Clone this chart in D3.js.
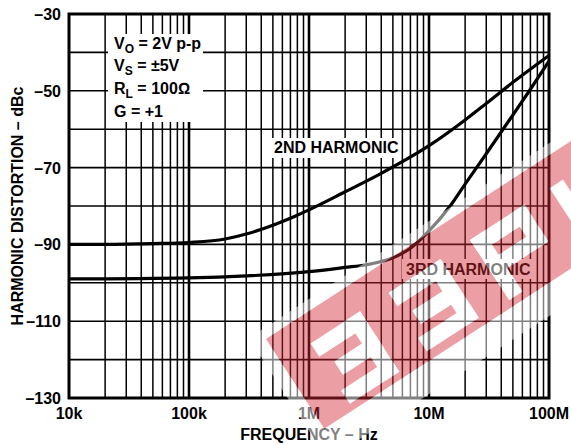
<!DOCTYPE html>
<html><head><meta charset="utf-8">
<script src="https://cdn.jsdelivr.net/npm/d3@7"></script>
<style>
html,body{margin:0;padding:0;background:#fff;}
svg{display:block;}
text{font-family:"Liberation Sans",Arial,sans-serif;font-weight:bold;fill:#000;}
</style></head>
<body>
<svg id="chart" width="571" height="444"></svg>
<script>
// ---- data ----
const xTickValues = [1e4, 1e5, 1e6, 1e7, 1e8];
const xTickLabels = ["10k", "100k", "1M", "10M", "100M"];
const yTickValues = [-30, -50, -70, -90, -110, -130];
const yTickLabels = ["\u201330", "\u201350", "\u201370", "\u201390", "\u2013110", "\u2013130"];
const freq2 = [1e4, 2e4, 5e4, 1e5, 2e5, 3e5, 5e5, 7e5, 1e6, 2e6, 4e6, 1e7, 2e7, 3e7, 5e7, 1e8];
const dist2 = [-90, -90, -89.8, -89.5, -88.6, -87.3, -85, -83.2, -81, -76.3, -71.5, -64.3, -57.6, -53.3, -47.8, -40.8];
const freq3 = [1e4, 1e5, 3e5, 1e6, 2e6, 3e6, 5e6, 7e6, 1e7, 1.5e7, 2e7, 3e7, 5e7, 7e7, 1e8];
const dist3 = [-99, -98.7, -98.2, -97.1, -96, -95.3, -93.5, -91, -86.5, -80, -74.3, -66.4, -56.3, -49.6, -42.3];
const conditions = [["V", "O", " = 2V p-p"], ["V", "S", " = \u00B15V"], ["R", "L", " = 100\u2126"], ["G", "", " = +1"]];
const label2 = "2ND HARMONIC";
const label3 = "3RD HARMONIC";
const xTitle = "FREQUENCY \u2013 Hz";
const yTitle = "HARMONIC DISTORTION \u2013 dBc";

// ---- layout ----
const L = 69, R = 549, T = 14, B = 398;
const svg = d3.select("#chart");
const x = d3.scaleLog().domain([1e4, 1e8]).range([L, R]);
const y = d3.scaleLinear().domain([-130, -30]).range([B, T]);

// grid: vertical
const minor = [];
for (let d = 1e4; d < 1e8; d *= 10) for (let k = 2; k <= 9; k++) minor.push(d * k);
const grid = svg.append("g");
grid.selectAll(".vmin").data(minor).join("line")
  .attr("x1", d => x(d)).attr("x2", d => x(d)).attr("y1", T).attr("y2", B)
  .attr("stroke", "#000").attr("stroke-width", 1.5);
grid.selectAll(".vmaj").data(xTickValues.slice(1, -1)).join("line")
  .attr("x1", d => x(d)).attr("x2", d => x(d)).attr("y1", T).attr("y2", B)
  .attr("stroke", "#000").attr("stroke-width", 2.6);
grid.selectAll(".h").data(d3.range(-120, -30, 10)).join("line")
  .attr("x1", L).attr("x2", R).attr("y1", d => y(d)).attr("y2", d => y(d))
  .attr("stroke", "#000").attr("stroke-width", 1.6);

// white label backgrounds
svg.append("rect").attr("x", 108).attr("y", 34).attr("width", 95).attr("height", 88).attr("fill", "#fff");
svg.append("rect").attr("x", 270).attr("y", 138).attr("width", 131).attr("height", 20).attr("fill", "#fff");
svg.append("rect").attr("x", 402).attr("y", 259).attr("width", 131).attr("height", 20).attr("fill", "#fff");

// border
svg.append("rect").attr("x", L).attr("y", T).attr("width", R - L).attr("height", B - T)
  .attr("fill", "none").attr("stroke", "#000").attr("stroke-width", 3);

// curves
const line = d3.line().x(d => x(d[0])).y(d => y(d[1])).curve(d3.curveMonotoneX);
svg.append("path").attr("d", line(freq2.map((f, i) => [f, dist2[i]])))
  .attr("fill", "none").attr("stroke", "#000").attr("stroke-width", 3.2);
svg.append("path").attr("d", line(freq3.map((f, i) => [f, dist3[i]])))
  .attr("fill", "none").attr("stroke", "#000").attr("stroke-width", 3.2);

// tick labels
svg.selectAll(".yl").data(yTickValues).join("text")
  .attr("x", 61).attr("y", d => y(d) + 6).attr("text-anchor", "end")
  .attr("font-size", 16).text((d, i) => yTickLabels[i]);
svg.selectAll(".xl").data(xTickValues).join("text")
  .attr("x", d => x(d)).attr("y", 419).attr("text-anchor", "middle")
  .attr("font-size", 16).text((d, i) => xTickLabels[i]);

// titles
svg.append("text").attr("x", (L + R) / 2).attr("y", 440).attr("text-anchor", "middle")
  .attr("font-size", 16).text(xTitle);
svg.append("text").attr("transform", `translate(23,${(T + B) / 2}) rotate(-90)`)
  .attr("text-anchor", "middle").attr("font-size", 16).text(yTitle);

// conditions
conditions.forEach((c, i) => {
  const t = svg.append("text").attr("x", 114).attr("y", 48.5 + i * 22.7).attr("font-size", 16);
  t.append("tspan").text(c[0]);
  if (c[1]) t.append("tspan").attr("font-size", 12).attr("dy", 4).text(c[1]);
  t.append("tspan").attr("dy", c[1] ? -4 : 0).text(c[2]);
});

// curve labels
svg.append("text").attr("x", 274).attr("y", 153).attr("font-size", 16).text(label2);
svg.append("text").attr("x", 406).attr("y", 274.5).attr("font-size", 16).text(label3);

// ---- watermark (decorative overlay) ----
const defs = svg.append("defs");
const ang = -33;
const ox = 266, oy = 339;
const bandW = 107, bandL = 520;
const holes = [
  [35, 28, 94, 44], [45, 56, 94, 72], [35, 84, 94, 100], [78, 28, 94, 100],
  [128, 28, 190, 44], [138, 56, 190, 72], [128, 82, 190, 98], [174, 28, 190, 98],
  [225, 28, 290, 44], [225, 28, 241, 100], [225, 56, 290, 72], [274, 28, 290, 72],
  [320, 28, 336, 100], [350, 28, 366, 100], [380, 28, 396, 100], [320, 84, 396, 100]
];
const tf = `translate(${ox},${oy}) rotate(${ang})`;
const mRed = defs.append("mask").attr("id", "mRed").attr("maskUnits", "userSpaceOnUse")
  .attr("x", 0).attr("y", 0).attr("width", 571).attr("height", 444);
const gR = mRed.append("g").attr("transform", tf);
gR.append("rect").attr("x", 0).attr("y", 0).attr("width", bandL).attr("height", bandW).attr("fill", "#fff");
holes.forEach(h => gR.append("rect").attr("x", h[0]).attr("y", h[1]).attr("width", h[2] - h[0]).attr("height", h[3] - h[1]).attr("fill", "#000"));
const mHalo = defs.append("mask").attr("id", "mHalo").attr("maskUnits", "userSpaceOnUse")
  .attr("x", 0).attr("y", 0).attr("width", 571).attr("height", 444);
const gH = mHalo.append("g").attr("transform", tf);
gH.append("rect").attr("x", -14).attr("y", -10).attr("width", bandL + 20).attr("height", bandW + 38).attr("fill", "#fff");
gH.append("rect").attr("x", 0).attr("y", 0).attr("width", bandL).attr("height", bandW).attr("fill", "#000");
holes.forEach(h => gH.append("rect").attr("x", h[0]).attr("y", h[1]).attr("width", h[2] - h[0]).attr("height", h[3] - h[1]).attr("fill", "#fff"));

svg.append("rect").attr("width", 571).attr("height", 444).attr("fill", "#fff").attr("opacity", 0.5)
  .attr("mask", "url(#mHalo)");
svg.append("rect").attr("width", 571).attr("height", 444).attr("fill", "#d42a34").attr("opacity", 0.45)
  .attr("mask", "url(#mRed)");
</script>
</body></html>
